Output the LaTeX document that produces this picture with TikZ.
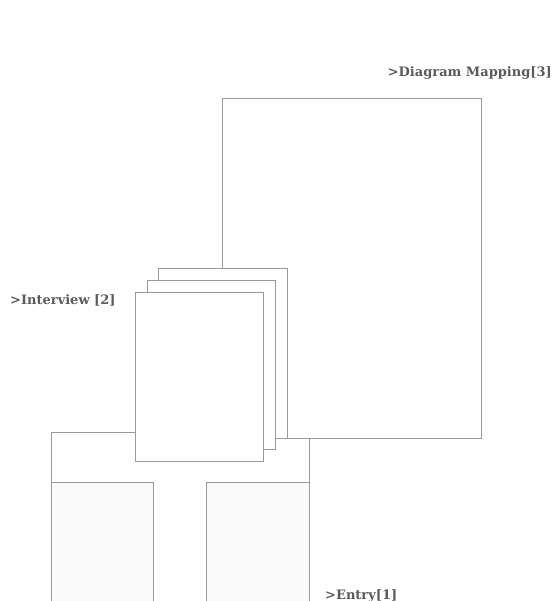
\documentclass[tikz,border=0pt]{standalone}
\usepackage{fontspec}
\setmainfont{DejaVu Serif}
\usetikzlibrary{positioning}
\definecolor{linegray}{HTML}{9A9A9A}
\definecolor{textgray}{HTML}{5A5A5A}
\definecolor{paneshade}{HTML}{FAFAFA}

\begin{document}
\begin{tikzpicture}[x=1pt, y=-1pt,
		sheet style/.style={draw=linegray, fill=white, line width=0.8pt, rectangle, inner sep=0pt, anchor=north west},
		pane style/.style={sheet style, fill=paneshade},
		label style/.style={text=textgray, inner sep=0pt, font=\fontsize{13}{15}\selectfont\bfseries}
		]
		\useasboundingbox (0,0) rectangle (554,601);
		\clip (0,0) rectangle (554,601);
		% entry block
		\node[sheet style, minimum width=258pt, minimum height=200pt] (entry) at (51,432) {};
		\node[pane style, minimum width=102pt, minimum height=150pt] (entryL) at (51,482) {};
		\node[pane style, minimum width=103pt, minimum height=150pt] (entryR) at (206,482) {};
		% diagram mapping
		\node[sheet style, minimum width=259pt, minimum height=340pt] (map) at (222,98) {};
		% interview sheets
		\node[sheet style, minimum width=129pt, minimum height=170pt] (sheet3) at (158,268) {};
		\node[sheet style, minimum width=128pt, minimum height=169pt] (sheet2) at (147,280) {};
		\node[sheet style, minimum width=128pt, minimum height=169pt] (sheet1) at (135,292) {};
		% labels
		\node[label style, anchor=base east] (maplabel) at (552,77) {>Diagram Mapping[3]};
		\node[label style, anchor=base west] (intlabel) at (10,304) {>Interview [2]};
		\node[label style, anchor=base west] (entrylabel) at (325,599) {>Entry[1]};
	\end{tikzpicture}
\end{document}
